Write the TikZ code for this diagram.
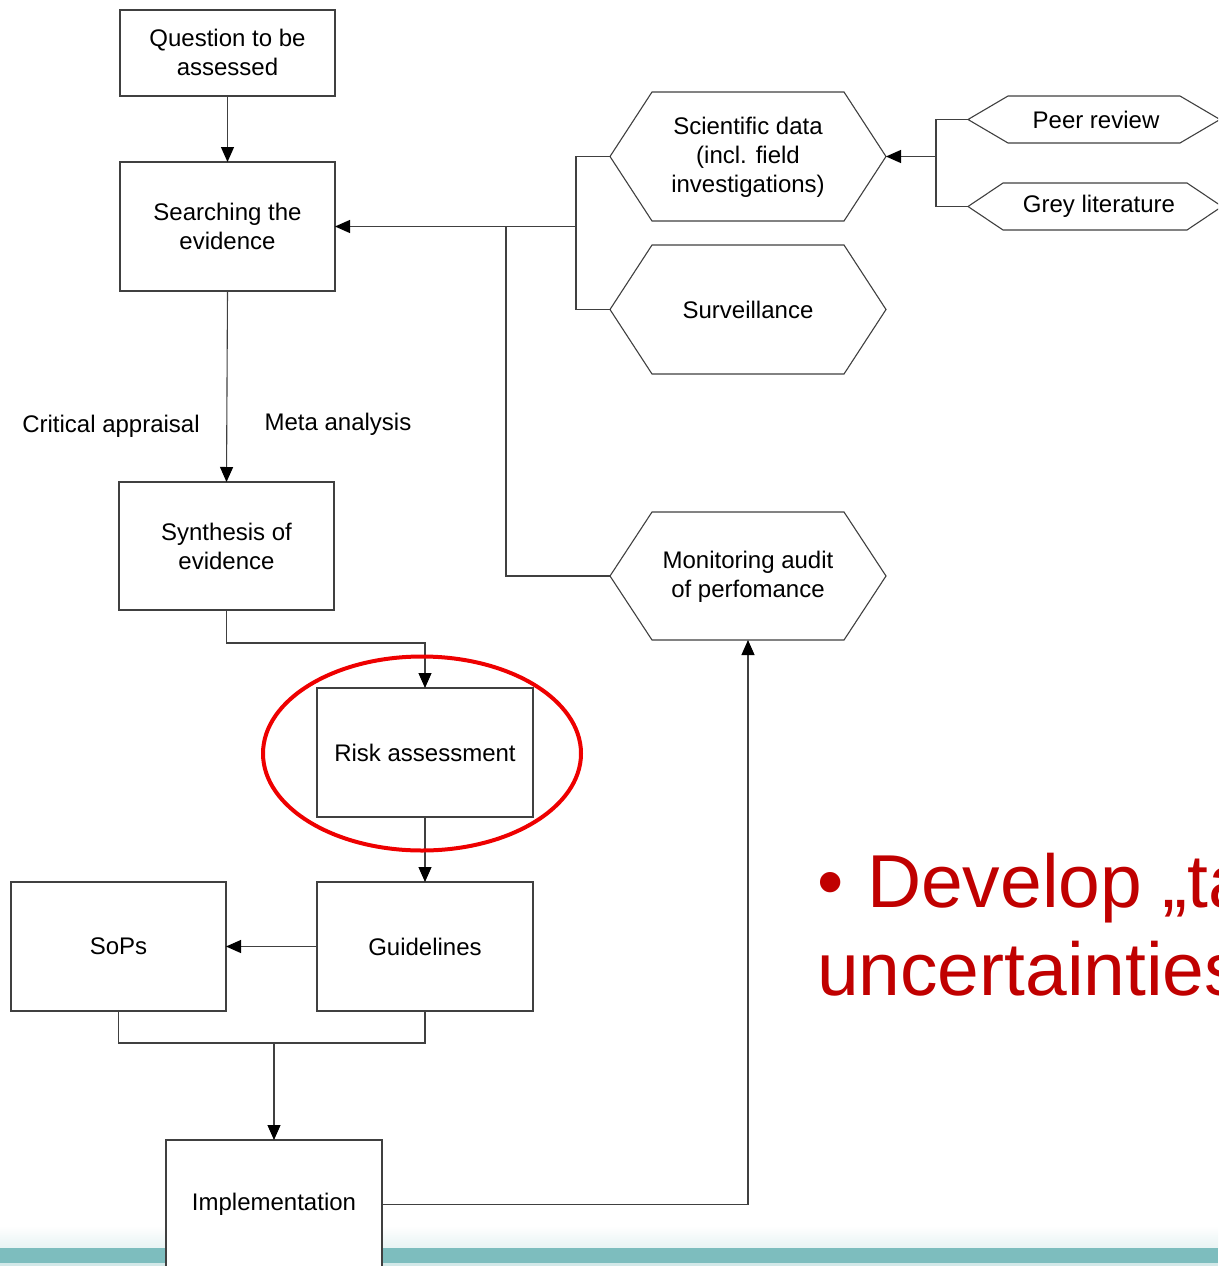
\documentclass[tikz,border=0pt]{standalone}
\usepackage{fontspec}
\setmainfont{Liberation Sans}
\usetikzlibrary{arrows.meta,calc}
\definecolor{lncol}{HTML}{404040}
\definecolor{barteal}{HTML}{7DBDBE}
\definecolor{bulletred}{HTML}{C00000}
\definecolor{ringred}{HTML}{EE0000}
\newcommand\hexdraw[2]{\draw[ln,fill=white] (#1.west) -- ([xshift=#2]#1.north west) -- ([xshift=-#2]#1.north east) -- (#1.east) -- ([xshift=-#2]#1.south east) -- ([xshift=#2]#1.south west) -- cycle;}
\begin{document}
\begin{tikzpicture}[x=1pt,y=-1pt,
  ln/.style={draw=lncol, line width=1.1pt},
  arr/.style={ln, -{Triangle[length=15pt,width=13pt,color=black,fill=black]}},
  txt/.style={font=\fontsize{24}{29}\selectfont, align=center},
  box/.style={ln, fill=white, txt, inner sep=0pt, outer sep=0pt, minimum width=215pt, minimum height=129pt},
  hexbox/.style={txt, inner sep=0pt, outer sep=0pt, minimum width=276pt, minimum height=129pt},
  bigred/.style={font=\fontsize{75}{88}\selectfont, text=bulletred, inner sep=0pt, outer sep=0pt}]
\useasboundingbox (0,0) rectangle (1218,1266);
\clip (0,0) rectangle (1218,1266);
% bottom band
\shade[top color=white, bottom color=barteal!18] (0,1226) rectangle (1218,1248);
\fill[barteal] (0,1248) rectangle (1218,1263);
\fill[barteal!35] (0,1263) rectangle (1218,1266);
% left column boxes
\node[box, minimum height=86pt] (q) at (227.5,53) {};
\node[txt] at (227.5,52) {Question to be\\assessed};
\node[box] (s) at (227.5,226.5) {Searching the\\evidence};
\node[box, minimum height=128pt] (syn) at (226.5,546) {Synthesis of\\evidence};
\node[box, minimum width=216pt] (risk) at (425,752.5) {Risk assessment};
\node[box, minimum width=216pt] (guide) at (425,946.5) {Guidelines};
\node[box] (sops) at (118.5,946.5) {SoPs};
\node[box, minimum width=216pt] (impl) at (274,1204.5) {Implementation};
% hexagons
\node[hexbox] (sci) at (748,156.5) {};
\hexdraw{sci}{42pt}
\node[txt] at (748,157.5) {Scientific data\\(incl. field\\investigations)};
\node[hexbox] (surv) at (748,309.5) {};
\hexdraw{surv}{42pt}
\node[txt] at (748,309.5) {Surveillance};
\node[hexbox, minimum height=128pt] (mon) at (748,576) {};
\hexdraw{mon}{42pt}
\node[txt] at (748,577) {Monitoring audit\\of perfomance};
\node[hexbox, minimum width=252pt, minimum height=47pt] (peer) at (1094,119.5) {};
\hexdraw{peer}{40pt}
\node[txt] at (1096,119.5) {Peer review};
\node[hexbox, minimum width=254pt, minimum height=47pt] (grey) at (1095,206.5) {};
\hexdraw{grey}{35pt}
\node[txt] at (1099,206.5) {Grey literature};
% labels
\node[txt] (ca) at (111,426) {Critical appraisal};
\node[txt] (ma) at (338,424) {Meta analysis};
% connectors
\coordinate (j) at (274,1043);
\coordinate (bus) at (576,226.5);
\coordinate (tap) at (506,226.5);
\coordinate (bus2) at (936,156.5);
\draw[arr] (q.south) -- (s.north);
\draw[arr] (s.south) -- (syn.north);
\draw[arr] (syn.south) -- ++(0,33) -| (risk.north);
\draw[arr] (risk.south) -- (guide.north);
\draw[arr] (guide.west) -- (sops.east);
\draw[ln] (sops.south) |- (j) -| (guide.south);
\draw[arr] (j) -- (impl.north);
\draw[arr] (impl.east) -| (mon.south);
\draw[arr] (bus) -- (s.east);
\draw[ln] (sci.west) -| (bus);
\draw[ln] (surv.west) -| (bus);
\draw[ln] (mon.west) -| (tap);
\draw[arr] (bus2) -- (sci.east);
\draw[ln] (peer.west) -| (bus2);
\draw[ln] (grey.west) -| (bus2);
% red ring
\draw[ringred, line width=4pt] (422,753.5) ellipse [x radius=159, y radius=97];
% red bullet text
\node[bigred, anchor=base] (bul) at (831,907) {•};
\node[bigred, anchor=base west] (dev) at (867,907) {Develop „ta};
\node[bigred, anchor=base west] (unc) at (817,995) {uncertainties};
\end{tikzpicture}
\end{document}
